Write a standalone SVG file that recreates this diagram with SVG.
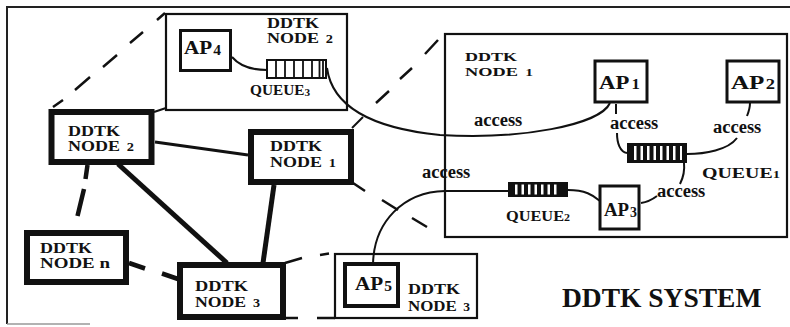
<svg xmlns="http://www.w3.org/2000/svg" width="790" height="327" viewBox="0 0 790 327">
  <defs>
    <style>
      .t{font-family:"Liberation Serif","Times New Roman",serif;font-weight:bold;fill:#111}
      .lbl{font-size:15px}
      .sm{font-size:13px}
      .ap{font-size:19px}
      .acc{font-size:18.5px}
      .q{font-size:15px}
      .dg{font-size:12px}
      .thick{fill:#fff;stroke:#111;stroke-width:6}
      .thin{fill:#fff;stroke:#111;stroke-width:2.2}
      .apbox{fill:#fff;stroke:#111;stroke-width:3}
      .link{fill:none;stroke:#111;stroke-width:2}
      .dash{fill:none;stroke:#111;stroke-width:2.5}
      .heavy{fill:none;stroke:#111;stroke-width:5}
      .slit{fill:#fff}
      .cell{stroke:#111;stroke-width:1.8}
    </style>
  </defs>

  <rect width="790" height="327" fill="#fff"/>

  <!-- system frame -->
  <g id="frame" fill="none">
    <path d="M7,324 V7 H790" stroke="#222" stroke-width="2"/>
    <path d="M7,324 H90" stroke="#999" stroke-width="1.5"/>
  </g>

  <!-- expanded node views (drawn first, underneath the links) -->
  <g id="detail-node2">
    <rect class="thin" x="166" y="14" width="181" height="96"/>
  </g>
  <g id="detail-node1">
    <rect class="thin" x="445" y="34" width="342" height="203"/>
  </g>
  <g id="detail-node3">
    <rect class="thin" x="335" y="254" width="142" height="64"/>
  </g>

  <!-- connectors -->
  <g id="connectors">
    <!-- network links between nodes -->
    <line x1="155" y1="142" x2="248" y2="155" stroke="#111" stroke-width="3"/>
    <line class="heavy" x1="118" y1="164" x2="227" y2="263"/>
    <line class="heavy" x1="274" y1="185" x2="263" y2="263"/>
    <path d="M87.5,165 L85.5,179 M84,189 L77.5,216" fill="none" stroke="#111" stroke-width="4.5"/>
    <path d="M129,263 L145,268.5 M162,273.5 L178,279" fill="none" stroke="#111" stroke-width="4.5"/>

    <!-- zoom lines from node 2 to its expanded view -->
    <path class="dash" d="M53,107 L63,100 M75,90 L90,77 M103,67 L117,55 M130,43 L143,32 M157,20 L165,13"/>
    <path class="link" d="M154,112 L166,108"/>

    <!-- zoom lines from node 1 to its expanded view -->
    <path class="link" d="M352,128 L363,117"/>
    <path class="dash" d="M376,103 L389,91 M400,79 L412,68 M425,54 L438,40"/>
    <path class="dash" d="M353,183 L365,191 M382,200 L398,210 M412,218 L427,227"/>

    <!-- zoom lines from node 3 to its expanded view -->
    <path class="dash" d="M285,263 L302,258 M320,255 L329,253.5"/>
    <path class="dash" d="M285,318 L298,318 M317,318 L335,318"/>

    <!-- access paths -->
    <path class="link" d="M232,57 Q243,70 267,70"/>
    <path class="link" d="M327,68 C332,105 370,128 440,135 C520,140 600,125 610,103"/>
    <path class="link" d="M616,104 L616,114"/>
    <path class="link" d="M617,133 C617,143 620,152 627,153"/>
    <path class="link" d="M687,154 C705,154 728,150 737,138"/>
    <path class="link" d="M747,116 C749,111 750,107 750,103"/>
    <path class="link" d="M684,163 C685,172 683,178 680,184"/>
    <path class="link" d="M641,203 C648,202 653,199 657,196"/>
    <path class="link" d="M568,190 C585,190 593,195 600,201"/>
    <path class="link" d="M508,191 L445,191 C403,192 374,222 373,264"/>
  </g>

  <!-- network nodes -->
  <g id="node2">
    <rect class="thick" x="51.5" y="112" width="100" height="50"/>
    <text class="t lbl" x="68" y="136" textLength="52" lengthAdjust="spacingAndGlyphs">DDTK</text>
    <text class="t lbl" x="68" y="151" textLength="66" lengthAdjust="spacingAndGlyphs">NODE <tspan class="dg" dx="2">2</tspan></text>
  </g>
  <g id="node1">
    <rect class="thick" x="251" y="132" width="100" height="50"/>
    <text class="t lbl" x="270" y="151" textLength="52" lengthAdjust="spacingAndGlyphs">DDTK</text>
    <text class="t lbl" x="270" y="167" textLength="66" lengthAdjust="spacingAndGlyphs">NODE <tspan class="dg" dx="2">1</tspan></text>
  </g>
  <g id="noden">
    <rect class="thick" x="27" y="233" width="99" height="49"/>
    <text class="t lbl" x="40" y="253" textLength="52" lengthAdjust="spacingAndGlyphs">DDTK</text>
    <text class="t lbl" x="40" y="268" textLength="70" lengthAdjust="spacingAndGlyphs">NODE n</text>
  </g>
  <g id="node3">
    <rect class="thick" x="180" y="265" width="103" height="52"/>
    <text class="t lbl" x="195" y="291" textLength="53" lengthAdjust="spacingAndGlyphs">DDTK</text>
    <text class="t lbl" x="195" y="307" textLength="65" lengthAdjust="spacingAndGlyphs">NODE <tspan class="dg" dx="2">3</tspan></text>
  </g>

  <!-- contents of node 2 -->
  <g id="node2-view">
    <text class="t lbl" x="267" y="28" textLength="52" lengthAdjust="spacingAndGlyphs">DDTK</text>
    <text class="t lbl" x="267" y="43" textLength="66" lengthAdjust="spacingAndGlyphs">NODE <tspan class="dg" dx="2">2</tspan></text>
  </g>
  <g id="ap4">
    <rect class="apbox" x="180.5" y="30.5" width="50" height="40"/>
    <text class="t ap" x="184" y="54" textLength="37" lengthAdjust="spacingAndGlyphs">AP<tspan font-size="14" dx="1" dy="1">4</tspan></text>
  </g>
  <g id="queue3">
    <rect x="267" y="60" width="59" height="18" fill="#fff" stroke="#111" stroke-width="2"/>
    <path class="cell" d="M276,60 V78 M285,60 V78 M294,60 V78 M303,60 V78 M312,60 V78 M319.5,60 V78 M323,60 V78"/>
    <text class="t q" x="250" y="95" textLength="60" lengthAdjust="spacingAndGlyphs">QUEUE<tspan font-size="11" dy="1">3</tspan></text>
  </g>

  <!-- contents of node 1 -->
  <g id="node1-view">
    <text class="t sm" x="465" y="61" textLength="52" lengthAdjust="spacingAndGlyphs">DDTK</text>
    <text class="t sm" x="465" y="75.5" textLength="68" lengthAdjust="spacingAndGlyphs">NODE <tspan font-size="11" dx="2">1</tspan></text>
  </g>
  <g id="ap1">
    <rect class="apbox" x="595" y="61" width="52" height="41"/>
    <text class="t ap" x="599" y="89" textLength="41" lengthAdjust="spacingAndGlyphs">AP<tspan font-size="14" dx="2">1</tspan></text>
  </g>
  <g id="ap2">
    <rect class="apbox" x="727" y="61" width="52" height="41"/>
    <text class="t ap" x="731" y="89" textLength="44" lengthAdjust="spacingAndGlyphs">AP<tspan font-size="14" dx="1">2</tspan></text>
  </g>
  <g id="ap3">
    <rect class="apbox" x="600" y="186" width="39" height="43"/>
    <text class="t ap" x="604" y="216" textLength="33" lengthAdjust="spacingAndGlyphs">AP<tspan font-size="14" dx="1" dy="1">3</tspan></text>
  </g>
  <g id="queue1">
    <rect x="627" y="143" width="60" height="20" fill="#111"/>
    <path class="slit" d="M634,146h2.5v14h-2.5z M640.5,146h2.5v14h-2.5z M647,146h2.5v14h-2.5z M653.5,146h2.5v14h-2.5z M660,146h2.5v14h-2.5z M666.5,146h2.5v14h-2.5z M673,146h2.5v14h-2.5z M680,146h2v14h-2z"/>
    <text class="t q" x="702" y="178" textLength="78" lengthAdjust="spacingAndGlyphs">QUEUE<tspan font-size="11">1</tspan></text>
  </g>
  <g id="queue2">
    <rect x="508" y="182" width="60" height="15" fill="#111"/>
    <path class="slit" d="M515,184.5h2.5v10h-2.5z M521.5,184.5h2.5v10h-2.5z M528,184.5h2.5v10h-2.5z M534.5,184.5h2.5v10h-2.5z M541,184.5h2.5v10h-2.5z M547.5,184.5h2.5v10h-2.5z M554,184.5h2.5v10h-2.5z"/>
    <text class="t q" x="506" y="221" textLength="64" lengthAdjust="spacingAndGlyphs">QUEUE<tspan font-size="11">2</tspan></text>
  </g>

  <!-- access labels -->
  <g id="access-labels">
    <text class="t acc" x="474" y="126">access</text>
    <text class="t acc" x="610" y="129">access</text>
    <text class="t acc" x="713" y="133">access</text>
    <text class="t acc" x="422" y="178">access</text>
    <text class="t acc" x="657" y="197">access</text>
  </g>

  <!-- contents of node 3 -->
  <g id="ap5">
    <rect x="345" y="264" width="53" height="42" fill="#fff" stroke="#111" stroke-width="4"/>
    <text class="t ap" x="355" y="290" textLength="37" lengthAdjust="spacingAndGlyphs">AP<tspan font-size="14" dx="1" dy="1">5</tspan></text>
  </g>
  <g id="node3-view">
    <text class="t lbl" x="408" y="294" textLength="52" lengthAdjust="spacingAndGlyphs">DDTK</text>
    <text class="t lbl" x="408" y="311" textLength="62" lengthAdjust="spacingAndGlyphs">NODE <tspan class="dg" dx="2">3</tspan></text>
  </g>

  <!-- title -->
  <g id="title">
    <text class="t" x="562" y="307" font-size="27.5">DDTK SYSTEM</text>
  </g>
</svg>
